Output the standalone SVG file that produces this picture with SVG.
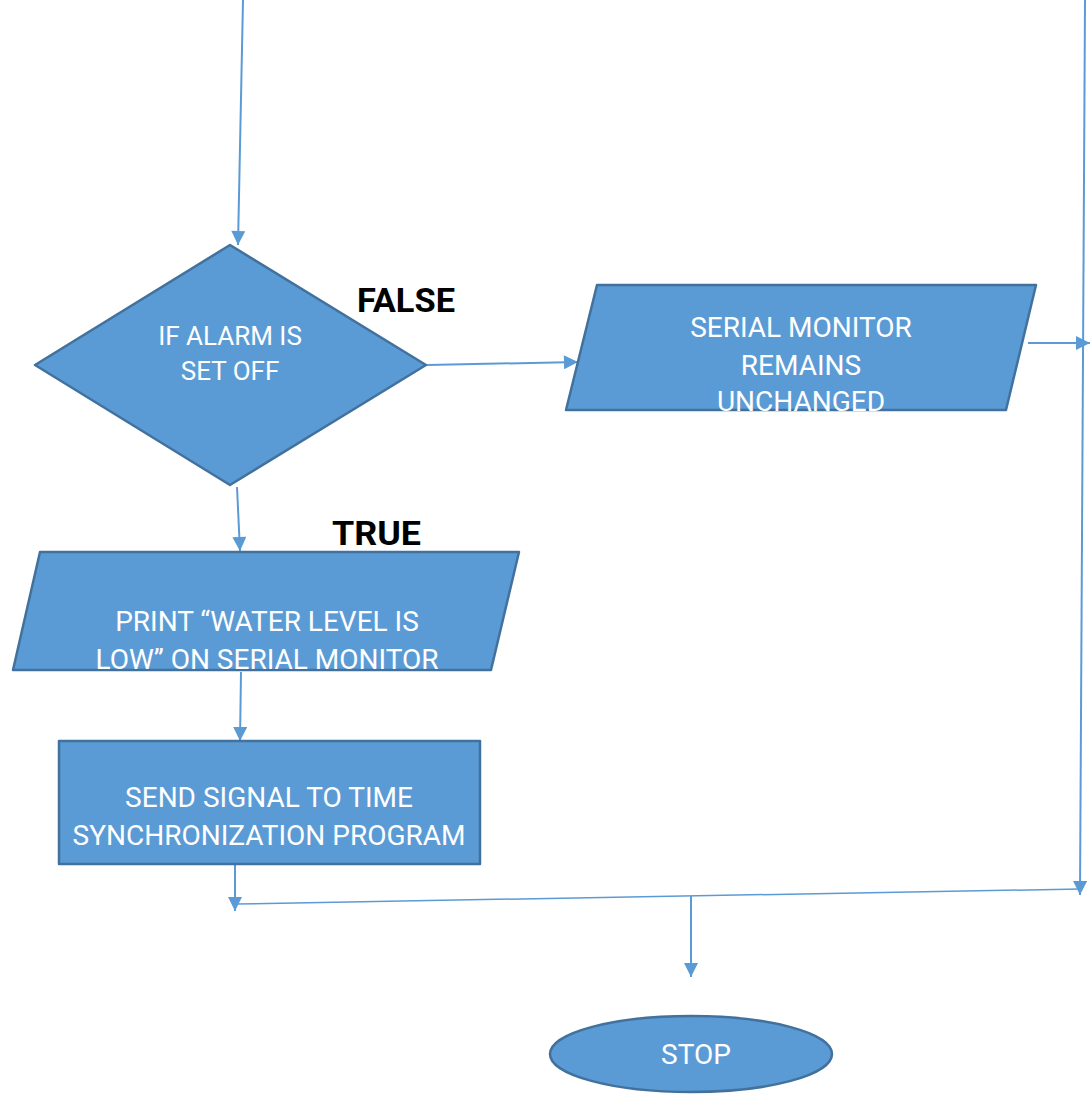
<svg xmlns="http://www.w3.org/2000/svg" width="1090" height="1094" viewBox="0 0 1090 1094">
<defs>
<style>
.shape{fill:#5B9BD5;stroke:#41719C;stroke-width:2.5;stroke-linejoin:round}
.lbl{font-family:Roboto,"Liberation Sans",sans-serif;font-size:28px;fill:#ffffff;text-anchor:middle;font-weight:normal}
.tag{font-family:Roboto,"Liberation Sans",sans-serif;font-size:34px;font-weight:bold;fill:#000000}
.conn{stroke:#5B9BD5;stroke-width:2;fill:none}
.thin{stroke:#5B9BD5;stroke-width:1.5;fill:none}
</style>
<marker id="ah" viewBox="0 0 10 10" refX="10" refY="5" markerWidth="15" markerHeight="14" markerUnits="userSpaceOnUse" orient="auto">
<path d="M0,0 L10,5 L0,10 z" fill="#5B9BD5"/>
</marker>
</defs>
<rect width="1090" height="1094" fill="#ffffff"/>
<g id="connectors">
<line class="conn" x1="243" y1="0" x2="238" y2="245" marker-end="url(#ah)"/>
<line class="conn" x1="427" y1="365" x2="578" y2="362" marker-end="url(#ah)"/>
<line class="conn" x1="237" y1="487" x2="240" y2="551" marker-end="url(#ah)"/>
<line class="conn" x1="241" y1="672" x2="240" y2="741" marker-end="url(#ah)"/>
<line class="conn" x1="1028" y1="343" x2="1090" y2="343" marker-end="url(#ah)"/>
<line class="conn" x1="1085" y1="0" x2="1080" y2="895" marker-end="url(#ah)"/>
<line class="conn" x1="235" y1="864" x2="235" y2="911" marker-end="url(#ah)"/>
<line class="thin" x1="235" y1="904" x2="1080" y2="889"/>
<line class="conn" x1="691" y1="896" x2="691" y2="977" marker-end="url(#ah)"/>
</g>
<g id="decision">
<polygon class="shape" points="230,245 426,365 230,485 35,365"/>
<text class="lbl" style="font-size:26px" x="230" y="345">IF ALARM IS</text>
<text class="lbl" style="font-size:26px" x="230" y="380">SET OFF</text>
</g>
<g id="label-false">
<text class="tag" x="357" y="312" textLength="98" lengthAdjust="spacingAndGlyphs">FALSE</text>
</g>
<g id="label-true">
<text class="tag" x="332" y="545" textLength="89" lengthAdjust="spacingAndGlyphs">TRUE</text>
</g>
<g id="serial-unchanged">
<polygon class="shape" points="597,285 1036,285 1006,410 566,410"/>
<text class="lbl" x="801" y="337">SERIAL MONITOR</text>
<text class="lbl" x="801" y="375">REMAINS</text>
<text class="lbl" x="801" y="411">UNCHANGED</text>
</g>
<g id="print-low">
<polygon class="shape" points="40,552 519,552 491,670 13,670"/>
<text class="lbl" x="267" y="631">PRINT “WATER LEVEL IS</text>
<text class="lbl" x="267" y="669">LOW” ON SERIAL MONITOR</text>
</g>
<g id="send-signal">
<rect class="shape" x="59" y="741" width="421" height="123"/>
<text class="lbl" x="269" y="807">SEND SIGNAL TO TIME</text>
<text class="lbl" x="269" y="845">SYNCHRONIZATION PROGRAM</text>
</g>
<g id="stop">
<ellipse class="shape" cx="691" cy="1054" rx="141" ry="38"/>
<text class="lbl" x="696" y="1064">STOP</text>
</g>
</svg>
